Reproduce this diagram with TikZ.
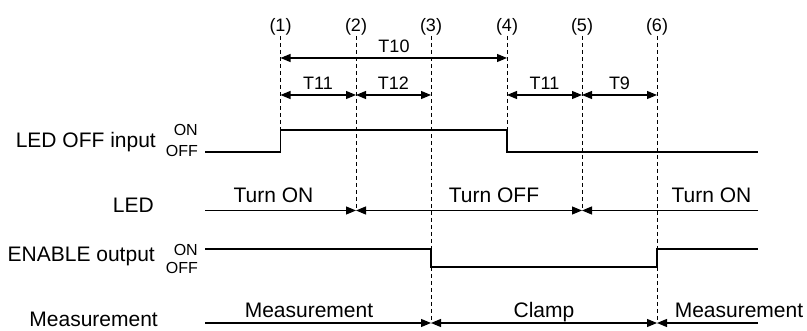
\documentclass[tikz,border=0pt]{standalone}
\usepackage{fontspec}
\setmainfont{Liberation Sans}
\usetikzlibrary{arrows.meta}

\begin{document}
\begin{tikzpicture}[
    x=1pt, y=-1pt,
    signal/.style={line width=1.3pt},
    guide/.style={line width=0.9pt, dash pattern=on 4pt off 3pt},
    dim/.style={line width=1.1pt, -{Triangle[length=10pt,width=8pt]}},
    dimboth/.style={line width=1.1pt, {Triangle[length=10pt,width=8pt]}-{Triangle[length=10pt,width=8pt]}},
    rowlabel/.style={anchor=base east, inner sep=0pt, font=\fontsize{21}{25}\selectfont},
    statelabel/.style={anchor=base east, inner sep=0pt, font=\fontsize{16}{19}\selectfont},
    steplabel/.style={anchor=base, inner sep=0pt, font=\fontsize{18}{21}\selectfont},
    phase/.style={anchor=base, inner sep=0pt, font=\fontsize{21}{25}\selectfont}
]
\useasboundingbox (0,0) rectangle (807,331);

% Events (1)-(6)
\coordinate (e1) at (280.5,36);
\coordinate (e2) at (356,36);
\coordinate (e3) at (431,36);
\coordinate (e4) at (507,36);
\coordinate (e5) at (582,36);
\coordinate (e6) at (657,36);
\node[steplabel] (n1) at (280.5,31.5) {(1)};
\node[steplabel] (n2) at (356,31.5) {(2)};
\node[steplabel] (n3) at (431,31.5) {(3)};
\node[steplabel] (n4) at (507,31.5) {(4)};
\node[steplabel] (n5) at (582,31.5) {(5)};
\node[steplabel] (n6) at (657,31.5) {(6)};

% Rows
\coordinate (t10) at (205,58);
\coordinate (tdim) at (205,95);
\coordinate (inH) at (205,130);
\coordinate (inL) at (205,152);
\coordinate (led) at (205,210.5);
\coordinate (enH) at (205,249);
\coordinate (enL) at (205,267);
\coordinate (meas) at (205,323);
\coordinate (fin) at (758,0);

% Dashed guides
\draw[guide] (e1) -- (e1 |- inH);
\draw[guide] (e2) -- (e2 |- led);
\draw[guide] (e3) -- (e3 |- meas);
\draw[guide] (e4) -- (e4 |- inH);
\draw[guide] (e5) -- (e5 |- led);
\draw[guide] (e6) -- (e6 |- meas);

% Timings
\draw[dimboth] (e1 |- t10) -- (e4 |- t10);
\draw[dimboth] (e1 |- tdim) -- (e2 |- tdim);
\draw[dimboth] (e2 |- tdim) -- (e3 |- tdim);
\draw[dimboth] (e4 |- tdim) -- (e5 |- tdim);
\draw[dimboth] (e5 |- tdim) -- (e6 |- tdim);
\node[steplabel] (T10) at (394,53) {T10};
\node[steplabel] (T11a) at (318,90) {T11};
\node[steplabel] (T12) at (393.5,90) {T12};
\node[steplabel] (T11b) at (544.5,90) {T11};
\node[steplabel] (T9) at (619.5,90) {T9};

% LED OFF input
\node[rowlabel] (inlbl) at (156,148) {LED OFF input};
\node[statelabel] (inon) at (198,136) {ON};
\node[statelabel] (inoff) at (198,157) {OFF};
\draw[signal] (inL) -- (e1 |- inL) -- (e1 |- inH) -- (e4 |- inH) -- (e4 |- inL) -- (fin |- inL);

% LED
\node[rowlabel] (ledlbl) at (154,213) {LED};
\draw[dim] (led) -- (e2 |- led);
\draw[dimboth] (e2 |- led) -- (e5 |- led);
\draw[dim] (fin |- led) -- (e5 |- led);
\node[phase] (on1) at (273.5,203) {Turn ON};
\node[phase] (off1) at (494,203) {Turn OFF};
\node[phase] (on2) at (711.5,203) {Turn ON};

% ENABLE output
\node[rowlabel] (enlbl) at (155,262) {ENABLE output};
\node[statelabel] (enon) at (198,256) {ON};
\node[statelabel] (enoff) at (198,274) {OFF};
\draw[signal] (enH) -- (e3 |- enH) -- (e3 |- enL) -- (e6 |- enL) -- (e6 |- enH) -- (fin |- enH);

% Measurement
\node[rowlabel] (measlbl) at (158,327) {Measurement};
\draw[dim] (meas) -- (e3 |- meas);
\draw[dimboth] (e3 |- meas) -- (e6 |- meas);
\draw[dim] (fin |- meas) -- (e6 |- meas);
\node[phase] (m1) at (309,318) {Measurement};
\node[phase] (clamp) at (544,318) {Clamp};
\node[phase] (m2) at (739,318) {Measurement};

\end{tikzpicture}
\end{document}
